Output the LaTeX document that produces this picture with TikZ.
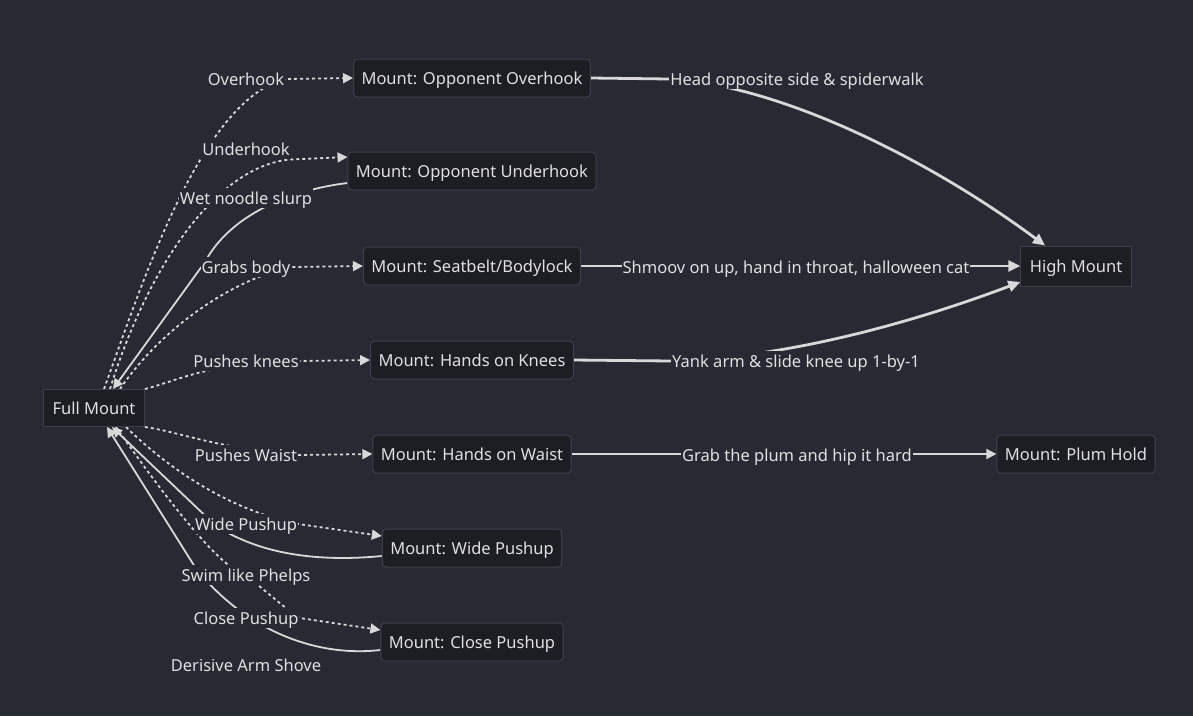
\documentclass[tikz,border=0pt]{standalone}
\usepackage{fontspec}
\setmainfont{Noto Sans}
\usepackage{xcolor}
\usetikzlibrary{arrows.meta,backgrounds}

\definecolor{bgdark}{HTML}{272A33}
\definecolor{boxfill}{HTML}{1C1E24}
\definecolor{boxline}{HTML}{3C404B}
\definecolor{inktext}{HTML}{E0E0E0}
\definecolor{inkline}{HTML}{D8D8D8}

\begin{document}
\begin{tikzpicture}[x=1pt, y=-1pt,
    every node/.style={font=\fontsize{16.5}{19}\selectfont, text=inktext, text height=16pt, text depth=3.5pt},
    stage/.style={draw=boxline, fill=boxfill, line width=1pt, rounded corners=4pt, minimum height=38pt, inner xsep=8pt},
    root/.style={draw=boxline, fill=boxfill, line width=1pt, minimum height=37pt, inner xsep=9pt},
    move/.style={fill=bgdark, inner xsep=1pt, inner ysep=0.5pt},
    dotline/.style={draw=inkline, line width=1.8pt, dash pattern=on 3pt off 3pt, -{Triangle[length=10pt,width=10pt]}},
    solidline/.style={draw=inkline, line width=1.8pt, -{Triangle[length=10pt,width=10pt]}},
    thickline/.style={draw=inkline, line width=2.8pt, -{Triangle[length=12pt,width=11pt]}}]

    % Positions
    \node[root] (fm) at (94,408) {Full Mount};
    \node[stage] (oo) at (472,78) {Mount: Opponent Overhook};
    \node[stage] (ou) at (472,171) {Mount: Opponent Underhook};
    \node[stage] (sb) at (472,266) {Mount: Seatbelt/Bodylock};
    \node[stage] (hk) at (472,360) {Mount: Hands on Knees};
    \node[stage] (hw) at (472,454) {Mount: Hands on Waist};
    \node[stage] (wp) at (472,548) {Mount: Wide Pushup};
    \node[stage] (cp) at (472,642) {Mount: Close Pushup};
    \node[root, minimum height=40pt] (hm) at (1076,266) {High Mount};
    \node[stage] (ph) at (1076,454) {Mount: Plum Hold};

    % Edge labels
    \node[move] (lOver) at (246,79) {Overhook};
    \node[move] (lUnder) at (246,149) {Underhook};
    \node[move] (lWet) at (246,198) {Wet noodle slurp};
    \node[move] (lGrab) at (246,267) {Grabs body};
    \node[move] (lKnee) at (246,361) {Pushes knees};
    \node[move] (lWaist) at (246,455) {Pushes Waist};
    \node[move] (lWide) at (246,524) {Wide Pushup};
    \node[move] (lSwim) at (246,575) {Swim like Phelps};
    \node[move] (lClose) at (246,618) {Close Pushup};
    \node[move] (lShove) at (246,665) {Derisive Arm Shove};
    \node[move] (lHead) at (797,79) {Head opposite side \& spiderwalk};
    \node[move] (lShmoov) at (796,267) {Shmoov on up, hand in throat, halloween cat};
    \node[move] (lYank) at (796,361) {Yank arm \& slide knee up 1-by-1};
    \node[move] (lPlum) at (797,455) {Grab the plum and hip it hard};

    \begin{scope}[on background layer]
        \fill[bgdark] (0,0) rectangle (1193,716);

        % Out of Full Mount
        \draw[dotline] ([xshift=10pt]fm.north) .. controls (140,290) and (200,100) .. (lOver.east) -- (oo.west);
        \draw[dotline] ([xshift=16pt]fm.north) .. controls (150,260) and (220,165) .. (lUnder.south east) -- ([yshift=14pt]ou.west);
        \draw[dotline] ([xshift=26pt]fm.north) .. controls (160,330) and (230,280) .. (lGrab.east) -- (sb.west);
        \draw[dotline] (fm.north east) .. controls (180,380) and (210,362) .. (lKnee.east) -- (hk.west);
        \draw[dotline] (fm.south east) .. controls (180,432) and (215,448) .. (lWaist.east) -- (hw.west);
        \draw[dotline] ([xshift=32pt]fm.south) .. controls (170,470) and (230,510) .. (lWide.east) -- ([yshift=12pt]wp.west);
        \draw[dotline] ([xshift=22pt]fm.south) .. controls (160,490) and (220,570) .. (lSwim.center)
            .. controls (270,595) and (290,612) .. (lClose.east) -- ([yshift=12pt]cp.west);

        % Back to Full Mount
        \draw[solidline] ([yshift=-12pt]ou.west) .. controls (290,190) and (230,215) .. (205,262) -- ([xshift=19pt]fm.north);
        \draw[solidline] ([yshift=-8pt]wp.west) .. controls (320,562) and (260,555) .. (215,525) -- ([xshift=18pt]fm.south);
        \draw[solidline] ([yshift=-8pt]cp.west) .. controls (310,658) and (240,625) .. (195,567) -- ([xshift=13pt]fm.south);

        % On to High Mount
        \draw[thickline] (oo.east) -- (lHead.west) .. controls (780,85) and (930,160) .. ([xshift=-31pt]hm.north);
        \draw[thickline] (sb.east) -- (hm.west);
        \draw[thickline] (hk.east) -- (lYank.west) .. controls (790,358) and (920,320) .. ([yshift=-16pt]hm.west);
        \draw[solidline] (hw.east) -- (ph.west);
    \end{scope}
\end{tikzpicture}
\end{document}
